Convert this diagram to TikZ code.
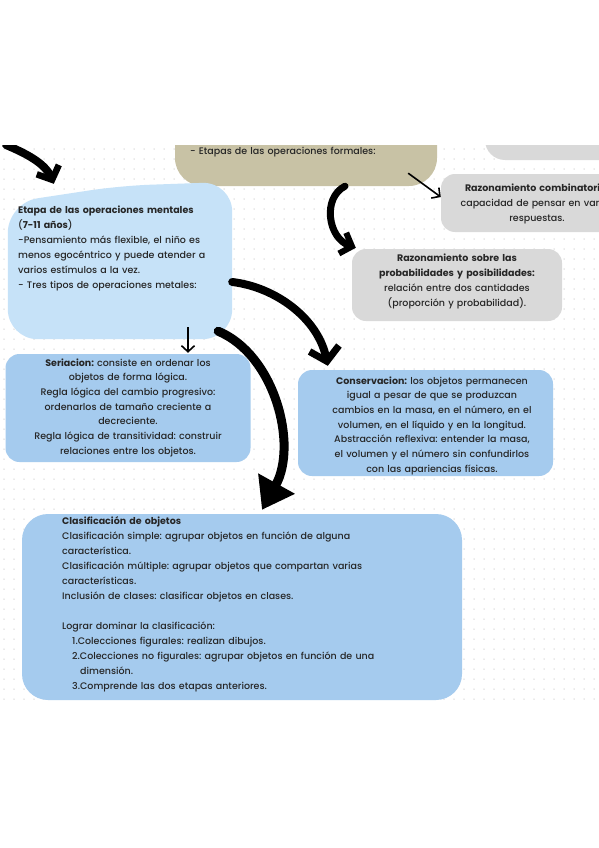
\documentclass[tikz,border=0pt]{standalone}
\usepackage{fontspec}
\setmainfont{Poppins}[UprightFont={Poppins Medium}, BoldFont={Poppins Bold}]
\usetikzlibrary{arrows.meta,calc}
\definecolor{lblue}{HTML}{C6E2F8}
\definecolor{mblue}{HTML}{A5CBEE}
\definecolor{beige}{HTML}{C8C2A5}
\definecolor{lgray}{HTML}{D9D9D9}
\definecolor{txtc}{HTML}{262626}
\definecolor{dotc}{HTML}{D6D6D6}
\begin{document}
\frenchspacing
\begin{tikzpicture}[x=1pt,y=-1pt,
  blob/.style={rectangle, inner sep=0pt, draw=none},
  txt/.style={text=txtc, inner sep=0pt, font=\fontsize{9.5}{15}\selectfont},
  brush/.style={line width=#1, line cap=round, black},
  thin/.style={line width=1.6pt, black, -{Straight Barb[length=6pt,width=13pt,line width=1.6pt]}}
]
\fill[white] (0,0) rectangle (599,848);
\useasboundingbox (0,0) rectangle (599,848);
\begin{scope}
\clip (0,145) rectangle (599,700);
\foreach \x in {4,14,...,599} \foreach \y in {149,159,...,700} \fill[dotc] (\x,\y) circle (0.75);

% boxes
\node[blob, fill=beige, rounded corners=28pt, minimum width=262pt, minimum height=92pt] (beige) at (306,140) {};
\node[blob, fill=lgray, rounded corners=20pt, minimum width=150pt, minimum height=70pt] (gtop) at (560,125) {};
\node[blob, fill=lgray, rounded corners=14pt, minimum width=208pt, minimum height=58pt] (comb) at (545,203) {};
\node[blob, fill=lgray, rounded corners=14pt, minimum width=210pt, minimum height=72pt] (prob) at (457,285) {};
\node[blob, minimum width=224pt, minimum height=156pt] (etapa) at (120,261) {};
\fill[lblue, rounded corners=30pt] ($(etapa.north west)+(0,20)$) -- ($(etapa.north)+(0,3)$) -- ($(etapa.north east)+(0,-1)$) -- (etapa.south east) -- (etapa.south west) -- cycle;
\node[blob, fill=mblue, rounded corners=14pt, minimum width=245pt, minimum height=108pt] (seri) at (128,408) {};
\node[blob, fill=mblue, rounded corners=14pt, minimum width=255pt, minimum height=106pt] (cons) at (425.5,423) {};
\node[blob, fill=mblue, rounded corners=26pt, minimum width=440pt, minimum height=186pt] (clas) at (242,607) {};

% texts
\node[txt, anchor=base west, text width=300pt, align=left] (beigetxt) at (190,154) {- Etapas de las operaciones formales:};
\node[txt, anchor=base, text width=220pt, align=center] (combtxt) at (537,191) {\textbf{Razonamiento combinatorio:}\\ capacidad de pensar en varias\\ respuestas.};
\node[txt, anchor=base, text width=210pt, align=center] (probtxt) at (457,261) {\textbf{Razonamiento sobre las}\\ \textbf{probabilidades y posibilidades:}\\ relación entre dos cantidades\\ (proporción y probabilidad).};
\node[txt, anchor=base west, text width=220pt, align=left] (etapatxt) at (18,213) {\textbf{Etapa de las operaciones mentales}\\ (\textbf{7-11 años})\\ -Pensamiento más flexible, el niño es\\ menos egocéntrico y puede atender a\\ varios estímulos a la vez.\\ - Tres tipos de operaciones metales:};
\node[txt, anchor=base, text width=245pt, align=center, font=\fontsize{9.5}{14.67}\selectfont] (seritxt) at (128,366) {\textbf{Seriacion:} consiste en ordenar los\\ objetos de forma lógica.\\ Regla lógica del cambio progresivo:\\ ordenarlos de tamaño creciente a\\ decreciente.\\ Regla lógica de transitividad: construir\\ relaciones entre los objetos.};
\node[txt, anchor=base, text width=255pt, align=center, font=\fontsize{9.5}{14.67}\selectfont] (constxt) at (432,384) {\textbf{Conservacion:} los objetos permanecen\\ igual a pesar de que se produzcan\\ cambios en la masa, en el número, en el\\ volumen, en el líquido y en la longitud.\\ Abstracción reflexiva: entender la masa,\\ el volumen y el número sin confundirlos\\ con las apariencias físicas.};
\node[txt, anchor=base west, text width=390pt, align=left] (clastxt) at (62,524) {\textbf{Clasificación de objetos}\\ Clasificación simple: agrupar objetos en función de alguna\\ característica.\\ Clasificación múltiple: agrupar objetos que compartan varias\\ características.\\ Inclusión de clases: clasificar objetos en clases.\\ \mbox{}\\ Lograr dominar la clasificación:\\ \hspace*{10pt}1.Colecciones figurales: realizan dibujos.\\ \hspace*{10pt}2.Colecciones no figurales: agrupar objetos en función de una\\ \hspace*{18pt}dimensión.\\ \hspace*{10pt}3.Comprende las dos etapas anteriores.};

% connectors
\coordinate (aS) at (6,145);
\draw[brush=8pt, -{Straight Barb[length=11pt,width=24pt,line width=6.5pt]}] (aS) .. controls (25,153) and (45,163) .. ($(etapa.north west)+(46,1)$);
\draw[brush=7pt, -{Straight Barb[length=10pt,width=22pt,line width=6pt]}] ($(beige.south)+(39,0)$) .. controls (322,198) and (328,238) .. ($(prob.north west)+(4,-1)$);
\draw[thin] ($(beige.south east)+(-29,-13)$) -- ($(comb.west)+(0,-6)$);
\draw[thin] ($(etapa.south)+(68,-12)$) -- ($(seri.north)+(60,-1)$);
\draw[brush=8pt, -{Straight Barb[length=13pt,width=30pt,line width=7pt]}] ($(etapa.east)+(0,21)$) .. controls (275,287) and (318,318) .. ($(cons.north west)+(30,-4)$);
\draw[brush=9pt, -{Triangle[length=30pt,width=40pt]}] ($(etapa.south east)+(-14,-8)$) .. controls (275,355) and (298,445) .. ($(clas.north)+(20,-4)$);
\end{scope}
\end{tikzpicture}
\end{document}
